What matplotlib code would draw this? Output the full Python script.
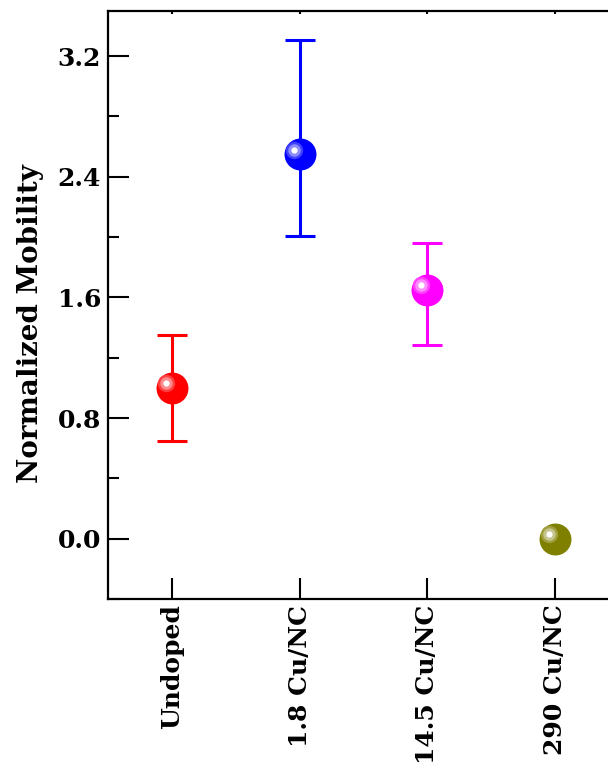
import numpy as np
import matplotlib
matplotlib.use("Agg")
import matplotlib.pyplot as plt
from matplotlib.colors import to_rgb
from matplotlib.transforms import offset_copy

samples = ["Undoped", "1.8 Cu/NC", "14.5 Cu/NC", "290 Cu/NC"]
mobility = [1.0, 2.55, 1.65, 0.0]
err_low = [0.35, 0.54, 0.365, 0.0]
err_high = [0.35, 0.76, 0.31, 0.0]
colors = ["#ff0000", "#0000ff", "#ff00ff", "#808000"]
yticks = [0.0, 0.8, 1.6, 2.4, 3.2]

plt.rcParams['font.family'] = ['DejaVu Serif']
plt.rcParams['font.weight'] = 'bold'

fig = plt.figure(figsize=(6.08, 7.78), dpi=100)
ax = fig.add_axes([0.1776, 0.230, 0.840, 0.756])

x = np.arange(len(samples))


def lighten(c, f):
    r, g, b = to_rgb(c)
    return (r + (1 - r) * f, g + (1 - g) * f, b + (1 - b) * f)


for i in range(len(samples)):
    if err_low[i] > 0 or err_high[i] > 0:
        ax.errorbar(x[i], mobility[i], yerr=[[err_low[i]], [err_high[i]]],
                    fmt='none', ecolor=colors[i], elinewidth=2.2,
                    capsize=10.8, capthick=2.2, zorder=2)
    ax.plot(x[i], mobility[i], 'o', ms=23, color=colors[i], mec='none', zorder=3)
    tr = offset_copy(ax.transData, fig=fig, x=-4.2, y=3.2, units='points')
    ax.plot(x[i], mobility[i], 'o', ms=12.5, color=lighten(colors[i], 0.25),
            mec='none', transform=tr, zorder=4)
    ax.plot(x[i], mobility[i], 'o', ms=9, color=lighten(colors[i], 0.55),
            mec='none', transform=tr, zorder=5)
    ax.plot(x[i], mobility[i], 'o', ms=4.5, color='white',
            mec='none', transform=tr, zorder=6)

ax.set_xlim(-0.5, 3.5)
ax.set_ylim(-0.4, 3.5)
ax.set_xticks(x)
ax.set_xticklabels(samples, rotation=90, fontsize=18, fontweight='bold')
ax.set_yticks(yticks)
ax.set_yticklabels([f"{v:.1f}" for v in yticks], fontsize=18, fontweight='bold')
ax.set_yticks(np.arange(-0.4, 3.5, 0.4), minor=True)
ax.tick_params(axis='y', which='major', direction='in', length=15, width=1.5, pad=5)
ax.tick_params(axis='y', which='minor', direction='in', length=8, width=1.5)
ax.tick_params(axis='x', which='major', direction='in', length=15, width=1.5, pad=4)
ax.tick_params(axis='x', which='minor', bottom=False, top=False)
ax.tick_params(axis='x', which='major', top=True)
for t in ax.xaxis.get_major_ticks():
    t.tick2line.set_markersize(2)
for s in ax.spines.values():
    s.set_linewidth(1.6)

ax.set_ylabel("Normalized Mobility", fontsize=20, fontweight='bold')
ax.yaxis.set_label_coords(-0.125, 0.468)

fig.savefig("out.png", dpi=100)
